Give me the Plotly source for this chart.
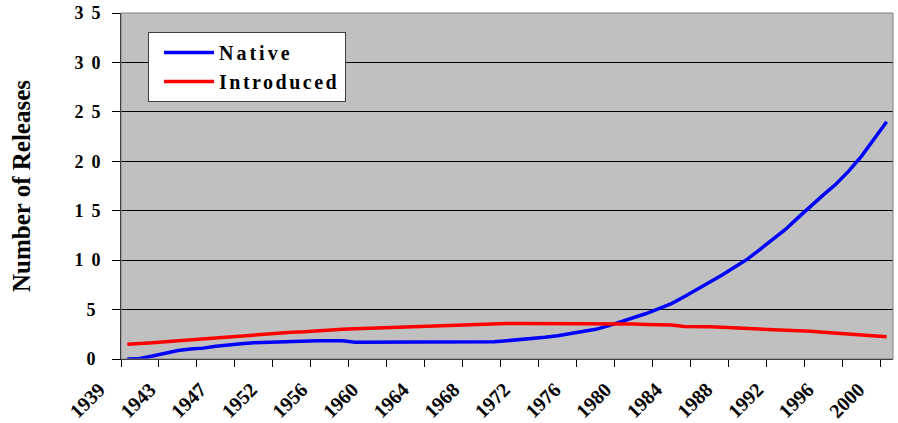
import plotly.graph_objects as go

# Category labels (one year is missing between 1947 and 1952 in the source chart)
years = list(range(1939, 1948)) + [1949, 1950, 1951] + list(range(1952, 2001))

native = [0.0, 0.05, 0.3, 0.6, 0.85, 1.0, 1.1, 1.3, 1.45, 1.55,
          1.65, 1.7, 1.75, 1.8, 1.85, 1.85, 1.85, 1.85, 1.7, 1.7,
          1.7, 1.7, 1.7, 1.7, 1.7, 1.7, 1.7, 1.7, 1.7, 1.75,
          1.85, 1.95, 2.05, 2.2, 2.35, 2.55, 2.75, 3.0, 3.35, 3.75,
          4.15, 4.6, 5.1, 5.6, 6.3, 7.0, 7.7, 8.5, 9.3, 10.1,
          11.1, 12.1, 13.1, 14.3, 15.5, 16.6, 17.7, 19.0, 20.5, 22.2,
          24.0]

introduced = [1.5, 1.55, 1.65, 1.75, 1.85, 1.95, 2.05, 2.15, 2.25, 2.3,
              2.4, 2.5, 2.6, 2.7, 2.75, 2.85, 2.95, 3.0, 3.05, 3.1,
              3.15, 3.2, 3.25, 3.3, 3.35, 3.4, 3.4, 3.45, 3.5, 3.55,
              3.6, 3.6, 3.6, 3.6, 3.6, 3.6, 3.6, 3.6, 3.55, 3.55,
              3.55, 3.5, 3.5, 3.45, 3.3, 3.3, 3.25, 3.2, 3.15, 3.05,
              3.0, 3.0, 2.95, 2.85, 2.8, 2.7, 2.6, 2.5, 2.4, 2.3,
              2.25]

y_ticks = [0, 5, 10, 15, 20, 25, 30, 35]

idx = list(range(len(years)))
label_idx = idx[::4]
label_text = [str(years[i]) for i in label_idx]
tick_marks = [i - 0.5 for i in range(0, len(years), 3)]

FONT = "Liberation Serif, Times New Roman, serif"


def spaced(s, px):
    return "<span style='letter-spacing:%spx'>%s</span>" % (px, s)


def y_label(v):
    s = str(v)
    return spaced(s, 8 if len(s) > 1 else 13)


fig = go.Figure()
fig.add_trace(go.Scatter(x=idx, y=native, mode="lines", name=spaced("Native", 3),
                         line=dict(color="#0000FF", width=3.5)))
fig.add_trace(go.Scatter(x=idx, y=introduced, mode="lines", name=spaced("Introduced", 2.5),
                         line=dict(color="#FF0000", width=3.5)))

fig.update_layout(
    width=898, height=423,
    margin=dict(l=121, r=5, t=13, b=64),
    paper_bgcolor="white",
    plot_bgcolor="#C0C0C0",
    font=dict(family=FONT, size=19, color="black", weight="bold"),
    showlegend=True,
    legend=dict(
        x=0.035, y=0.945, xanchor="left", yanchor="top",
        bgcolor="white", bordercolor="#404040", borderwidth=1,
        font=dict(family=FONT, size=20, color="black", weight="bold"),
        itemwidth=50, indentation=10,
        tracegroupgap=6,
    ),
    xaxis=dict(
        range=[-0.5, len(years) - 0.5],
        tickmode="array", tickvals=label_idx, ticktext=label_text,
        tickangle=-45, ticks="",
        ticklabelshift=-28, ticklabelstandoff=10,
        ticklabeloverflow="allow",
        tickfont=dict(family=FONT, size=20, color="black", weight="bold"),
        showgrid=False, zeroline=False, automargin=False,
        showline=True, linecolor="black", linewidth=1,
        minor=dict(tickmode="array", tickvals=tick_marks, ticks="outside",
                   ticklen=7, tickcolor="black", tickwidth=1, showgrid=False),
        fixedrange=True,
    ),
    yaxis=dict(
        range=[0, 35], tickmode="array", tickvals=y_ticks,
        ticktext=[y_label(v) for v in y_ticks],
        ticks="outside", ticklen=8, tickcolor="black", tickwidth=1,
        ticklabelstandoff=0, ticklabeloverflow="allow", automargin=False,
        tickfont=dict(family=FONT, size=18, color="black", weight="bold"),
        showgrid=True, gridcolor="black", gridwidth=1,
        zeroline=False, showline=True, linecolor="black", linewidth=1,
        title=dict(text="Number of Releases", standoff=36,
                   font=dict(family=FONT, size=25, color="black", weight="bold")),
        fixedrange=True,
    ),
    shapes=[dict(type="rect", xref="x domain", yref="y domain",
                 x0=0, x1=1, y0=0, y1=1, line=dict(color="#808080", width=1),
                 fillcolor="rgba(0,0,0,0)", layer="above")],
)

fig.write_html("out.html", config={"displayModeBar": False},
               post_script="document.body.style.margin='0';document.body.style.overflow='hidden';")
